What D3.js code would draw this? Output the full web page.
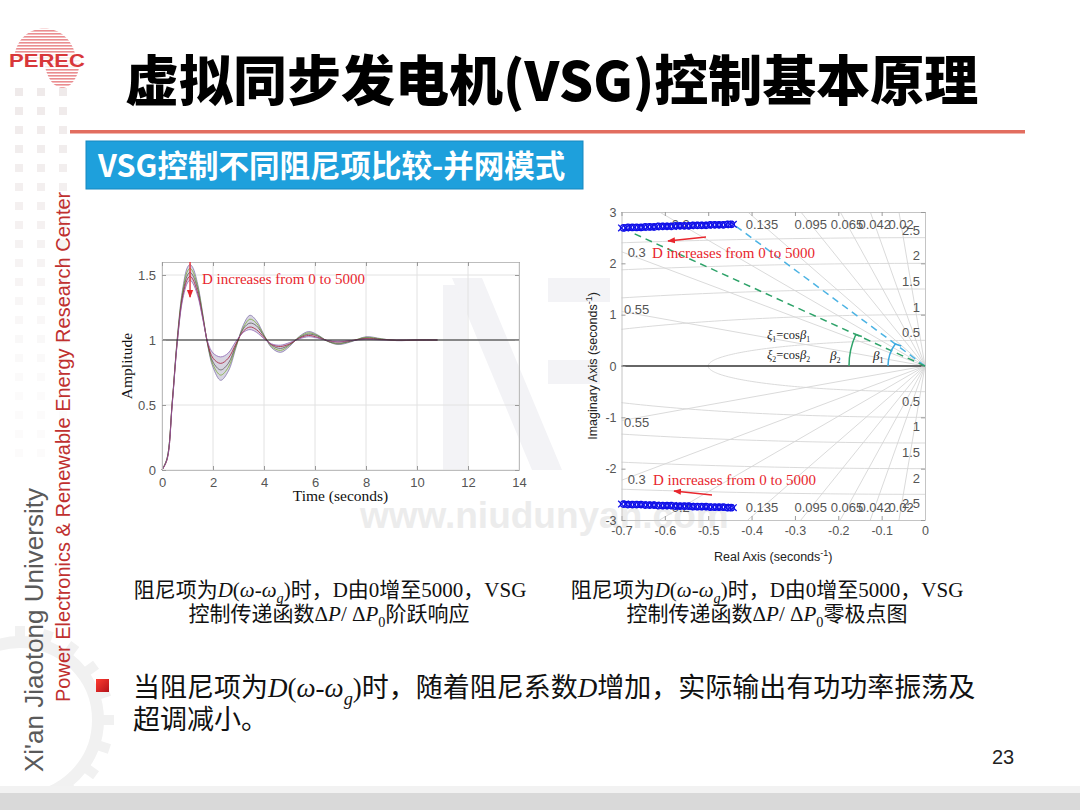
<!DOCTYPE html>
<html>
<head>
<meta charset="utf-8">
<script src="https://cdn.jsdelivr.net/npm/d3@7"></script>
<style>
body { margin: 0; background: #fff; }
svg text { font-family: "Liberation Sans", Arial, sans-serif; }
</style>
</head>
<body>
<div id="slide"></div>
<script>

// --- step response data -------------------------------------------------------//
var stepTime  = [0, 0.2, 0.4, 0.6, 0.8, 1.0, 1.1, 1.2, 1.4, 1.6, 1.8, 2.0, 2.3, 2.6, 2.9, 3.2, 3.45, 3.7, 4.0, 4.3, 4.65, 5.0, 5.4, 5.75, 6.1, 6.5, 6.9, 7.4, 8.0, 8.6, 9.2, 10.0, 10.8];
var stepD0    = [0, 0.09, 0.52, 1.02, 1.38, 1.56, 1.58, 1.56, 1.43, 1.20, 0.95, 0.79, 0.69, 0.76, 0.94, 1.12, 1.19, 1.15, 1.04, 0.94, 0.905, 0.95, 1.03, 1.065, 1.04, 0.99, 0.965, 0.985, 1.025, 1.01, 0.995, 1.0, 1.0];
var stepD1250 = [0, 0.09, 0.52, 1.01, 1.36, 1.53, 1.55, 1.53, 1.41, 1.19, 0.96, 0.81, 0.73, 0.79, 0.95, 1.10, 1.16, 1.13, 1.035, 0.95, 0.92, 0.96, 1.025, 1.055, 1.035, 0.99, 0.97, 0.99, 1.02, 1.008, 0.997, 1.0, 1.0];
var stepD2500 = [0, 0.09, 0.51, 1.00, 1.34, 1.50, 1.52, 1.50, 1.39, 1.18, 0.96, 0.83, 0.77, 0.82, 0.96, 1.09, 1.13, 1.11, 1.03, 0.96, 0.935, 0.965, 1.02, 1.045, 1.03, 0.99, 0.975, 0.99, 1.015, 1.005, 0.998, 1.0, 1.0];
var stepD3750 = [0, 0.08, 0.51, 0.99, 1.32, 1.47, 1.49, 1.47, 1.36, 1.17, 0.97, 0.86, 0.82, 0.86, 0.97, 1.07, 1.10, 1.08, 1.02, 0.965, 0.95, 0.97, 1.015, 1.035, 1.02, 0.995, 0.985, 0.995, 1.01, 1.003, 0.999, 1.0, 1.0];
var stepD5000 = [0, 0.08, 0.50, 0.98, 1.30, 1.44, 1.46, 1.44, 1.34, 1.16, 0.98, 0.90, 0.87, 0.90, 0.99, 1.06, 1.08, 1.06, 1.01, 0.97, 0.96, 0.98, 1.01, 1.025, 1.015, 0.995, 0.99, 0.995, 1.005, 1.0, 1.0, 1.0, 1.0];
var stepXTicks = [0, 2, 4, 6, 8, 10, 12, 14];
var stepYTicks = [0, 0.5, 1, 1.5];

// --- pole / zero data ------------------------------------------------------------//
var poleRe = [-0.700, -0.690, -0.680, -0.670, -0.660, -0.650, -0.640, -0.630, -0.620, -0.610, -0.600, -0.590, -0.580, -0.570, -0.560, -0.550, -0.540, -0.530, -0.520, -0.510, -0.500, -0.490, -0.480, -0.470, -0.460, -0.450, -0.442];
var poleIm = [2.69, 2.69, 2.70, 2.70, 2.70, 2.70, 2.71, 2.71, 2.71, 2.72, 2.72, 2.72, 2.72, 2.73, 2.73, 2.73, 2.73, 2.74, 2.74, 2.74, 2.74, 2.75, 2.75, 2.75, 2.75, 2.76, 2.76];
var zeroRe = [-0.695, -0.685, -0.675, -0.665, -0.655, -0.645, -0.635, -0.625, -0.615, -0.605, -0.595, -0.585, -0.575, -0.565, -0.555, -0.545, -0.535, -0.525, -0.515, -0.505, -0.495, -0.485, -0.475, -0.465, -0.455, -0.447];
var zeroIm = [2.69, 2.70, 2.70, 2.70, 2.70, 2.71, 2.71, 2.71, 2.72, 2.72, 2.72, 2.72, 2.73, 2.73, 2.73, 2.73, 2.74, 2.74, 2.74, 2.74, 2.75, 2.75, 2.75, 2.75, 2.76, 2.76];
var pzXTicks = [-0.7, -0.6, -0.5, -0.4, -0.3, -0.2, -0.1, 0];
var pzYTicks = [-3, -2, -1, 0, 1, 2, 3];
var dampingTicks = [0.02, 0.042, 0.065, 0.095, 0.135, 0.2, 0.3, 0.55];
var freqTicks = [0.5, 1, 1.5, 2, 2.5];


var FONT_CJK = '"Noto Sans CJK SC", "Noto Sans CJK TC", sans-serif';
var FONT_SERIF = '"Liberation Serif", "Times New Roman", serif';
var FONT_SANS = '"Liberation Sans", Arial, sans-serif';
var RED = '#e8262d';

var svg = d3.select('#slide').append('svg')
    .attr('width', 1080)
    .attr('height', 810)
    .attr('viewBox', '0 0 1080 810');

var defs = svg.append('defs');
defs.append('marker')
    .attr('id', 'redArrow')
    .attr('viewBox', '0 0 10 10')
    .attr('refX', 9).attr('refY', 5)
    .attr('markerWidth', 6).attr('markerHeight', 6)
    .attr('orient', 'auto-start-reverse')
    .append('path').attr('d', 'M0,1 L10,5 L0,9 Z').attr('fill', RED);

var stripes = defs.append('pattern')
    .attr('id', 'logoStripes').attr('patternUnits', 'userSpaceOnUse')
    .attr('width', 4).attr('height', 3);
stripes.append('rect').attr('width', 4).attr('height', 1.6).attr('fill', '#e57074');

var bulletGrad = defs.append('linearGradient').attr('id', 'bulletGrad')
    .attr('x1', 0).attr('y1', 0).attr('x2', 1).attr('y2', 1);
bulletGrad.append('stop').attr('offset', 0).attr('stop-color', '#ff3b30');
bulletGrad.append('stop').attr('offset', 1).attr('stop-color', '#b3121a');


// --- text helper: mixed CJK / Times runs with subscripts ---------------------- //
function richText(parent, x, y, parts, size, anchor) {
    var t = parent.append('text')
        .attr('x', x).attr('y', y)
        .attr('font-size', size)
        .attr('text-anchor', anchor || 'start')
        .attr('fill', '#111');
    var shift = 0;
    parts.forEach(function (p) {
        var k = p[1];
        var s = t.append('tspan').text(p[0])
            .style('font-family', k === 'c' ? FONT_CJK : FONT_SERIF);
        if (k === 'i' || k === 'isub') s.style('font-style', 'italic');
        var sub = (k === 'isub' || k === 'sub');
        var want = sub ? size * 0.3 : 0;
        if (want !== shift) { s.attr('dy', want - shift); shift = want; }
        if (sub) s.attr('font-size', size * 0.68);
    });
    return t;
}


//--- slide decoration ----------------------------------------------------------//
function renderBackground() {
    var deco = svg.append('g').attr('id', 'deco');

    // faint square grid in the left strip
    var cols = [19, 41, 63];
    var rows = d3.range(92, 470, 19);
    rows.forEach(function (ry, i) {
        cols.forEach(function (cx) {
            deco.append('rect')
                .attr('x', cx - 4).attr('y', ry - 4)
                .attr('width', 8).attr('height', 8)
                .attr('fill', '#efeaea')
                .attr('opacity', Math.max(0.2, 1 - i / rows.length));
        });
    });

    // faint gear at bottom left
    deco.append('circle').attr('cx', 20).attr('cy', 720).attr('r', 78)
        .attr('fill', 'none').attr('stroke', '#f1f1f1').attr('stroke-width', 12);
    d3.range(0, 360, 18).forEach(function (a) {
        deco.append('rect')
            .attr('x', -5).attr('y', -94).attr('width', 10).attr('height', 12)
            .attr('fill', '#f1f1f1')
            .attr('transform', 'translate(20,720) rotate(' + a + ')');
    });

    // bottom band
    deco.append('rect').attr('x', 0).attr('y', 786).attr('width', 1080).attr('height', 7).attr('fill', '#f2f2f2');
    deco.append('rect').attr('x', 0).attr('y', 793).attr('width', 1080).attr('height', 17).attr('fill', '#d9d9d9');

    // watermark
    var wm = svg.append('g').attr('id', 'watermark').attr('fill', '#f3f3f6');
    wm.append('rect').attr('x', 443).attr('y', 285).attr('width', 24).attr('height', 185);
    wm.append('path').attr('d', 'M452,278 L482,278 L562,470 L532,470 Z');
    wm.append('rect').attr('x', 548).attr('y', 278).attr('width', 62).attr('height', 24);
    wm.append('rect').attr('x', 548).attr('y', 360).attr('width', 52).attr('height', 24);
    wm.append('text').attr('x', 360).attr('y', 528)
        .attr('font-size', 37).attr('font-weight', 'bold')
        .attr('fill', '#ececec').text('www.niudunyan.com');

    // logo
    var logo = svg.append('g').attr('id', 'logo');
    logo.append('path').attr('d', 'M14,60 C16,18 72,18 76,60 Z').attr('fill', 'url(#logoStripes)').attr('opacity', 0.8);
    logo.append('path').attr('d', 'M44,60 C48,98 78,96 80,60 Z').attr('fill', 'url(#logoStripes)').attr('opacity', 0.8);
    logo.append('rect').attr('x', 9).attr('y', 53).attr('width', 76).attr('height', 15).attr('fill', '#fff').attr('opacity', 0.85);
    logo.append('text').attr('x', 9).attr('y', 67)
        .attr('font-size', 19).attr('font-weight', 900)
        .attr('textLength', 76).attr('lengthAdjust', 'spacingAndGlyphs')
        .attr('fill', '#d8373a')
        .text('PEREC');

    // vertical texts
    svg.append('text')
        .attr('transform', 'translate(43,772) rotate(-90)')
        .attr('font-size', 26).attr('fill', '#5a5a5a')
        .text("Xi'an Jiaotong University");
    svg.append('text')
        .attr('transform', 'translate(70,702) rotate(-90)')
        .attr('font-size', 20).attr('fill', '#c0302f')
        .text('Power Electronics & Renewable Energy Research Center');
}


//--- title and heading box -----------------------------------------------------//
function renderTitle() {
    svg.append('text')
        .attr('x', 125).attr('y', 101)
        .attr('font-size', 54).attr('font-weight', 900)
        .style('font-family', FONT_CJK)
        .attr('fill', '#000')
        .text('虚拟同步发电机(VSG)控制基本原理');

    svg.append('rect').attr('x', 70).attr('y', 130).attr('width', 955).attr('height', 3.5).attr('fill', '#e26d5f');

    svg.append('rect').attr('x', 86).attr('y', 141).attr('width', 497).attr('height', 48)
        .attr('fill', '#1ea0dc').attr('stroke', '#1688c0').attr('stroke-width', 1);
    svg.append('text')
        .attr('x', 98).attr('y', 177)
        .attr('font-size', 30.5).attr('font-weight', 'bold')
        .style('font-family', FONT_CJK)
        .attr('fill', '#fff')
        .text('VSG控制不同阻尼项比较-并网模式');
}


//--- step response chart -------------------------------------------------------//
function renderStep() {
    var x = d3.scaleLinear().domain([0, 14]).range([162, 519]);
    var y = d3.scaleLinear().domain([0, 1.6]).range([470, 262]);
    var g = svg.append('g').attr('id', 'step');

    // grid
    g.append('g').selectAll('line').data(stepXTicks).join('line')
        .attr('x1', x).attr('x2', x).attr('y1', y(0)).attr('y2', y(1.6))
        .attr('stroke', '#e2e2e2').attr('stroke-width', 1);
    g.append('g').selectAll('line').data(stepYTicks).join('line')
        .attr('x1', x(0)).attr('x2', x(14)).attr('y1', y).attr('y2', y)
        .attr('stroke', '#e2e2e2').attr('stroke-width', 1);

    var series = [stepD0, stepD1250, stepD2500, stepD3750, stepD5000];
    var colors = ['#7e6fa8', '#77ac30', '#555555', '#a2142f', '#8b5fb0'];

    var band = d3.area()
        .x(function (d, i) { return x(stepTime[i]); })
        .y0(function (d, i) { return y(stepD5000[i]); })
        .y1(function (d, i) { return y(stepD0[i]); })
        .curve(d3.curveCatmullRom);
    g.append('path').datum(stepD0).attr('d', band)
        .attr('fill', '#b7b1c9').attr('opacity', 0.55);

    var line = d3.line()
        .x(function (d, i) { return x(stepTime[i]); })
        .y(function (d) { return y(d); })
        .curve(d3.curveCatmullRom);
    series.forEach(function (s, k) {
        g.append('path').datum(s).attr('d', line)
            .attr('fill', 'none').attr('stroke', colors[k])
            .attr('stroke-width', 0.9).attr('opacity', 0.85);
    });

    // steady state line
    g.append('line').attr('x1', x(0)).attr('x2', x(14)).attr('y1', y(1)).attr('y2', y(1))
        .attr('stroke', '#222').attr('stroke-width', 1.2);

    // axes (box with inward ticks)
    var fmt = function (d) { return String(d); };
    var ax = g.append('g').attr('transform', 'translate(0,' + y(0) + ')')
        .call(d3.axisBottom(x).tickValues(stepXTicks).tickFormat(fmt).tickSizeInner(-4).tickSizeOuter(0).tickPadding(8));
    var ay = g.append('g').attr('transform', 'translate(' + x(0) + ',0)')
        .call(d3.axisLeft(y).tickValues(stepYTicks).tickFormat(fmt).tickSizeInner(-4).tickSizeOuter(0).tickPadding(6));
    var at = g.append('g').attr('transform', 'translate(0,' + y(1.6) + ')')
        .call(d3.axisTop(x).tickValues(stepXTicks).tickFormat('').tickSizeInner(-4).tickSizeOuter(0));
    var ar = g.append('g').attr('transform', 'translate(' + x(14) + ',0)')
        .call(d3.axisRight(y).tickValues(stepYTicks).tickFormat('').tickSizeInner(-4).tickSizeOuter(0));
    [ax, ay, at, ar].forEach(function (a) {
        a.select('.domain').attr('stroke', '#bdbdbd');
        a.selectAll('.tick line').attr('stroke', '#9a9a9a');
        a.selectAll('.tick text').attr('fill', '#555').attr('font-size', 13).style('font-family', FONT_SANS);
    });

    g.append('text')
        .attr('x', (x(0) + x(14)) / 2).attr('y', 501)
        .attr('text-anchor', 'middle').attr('font-size', 15.5)
        .style('font-family', FONT_SERIF).attr('fill', '#111')
        .text('Time (seconds)');
    g.append('text')
        .attr('transform', 'translate(132,' + y(0.8) + ') rotate(-90)')
        .attr('text-anchor', 'middle').attr('font-size', 15.5)
        .style('font-family', FONT_SERIF).attr('fill', '#111')
        .text('Amplitude');

    // annotation
    g.append('line')
        .attr('x1', x(1.1)).attr('x2', x(1.1)).attr('y1', y(1.6)).attr('y2', y(1.33))
        .attr('stroke', RED).attr('stroke-width', 1.3).attr('marker-end', 'url(#redArrow)');
    g.append('text')
        .attr('x', 202).attr('y', 284)
        .attr('font-size', 15).style('font-family', FONT_SERIF).attr('fill', RED)
        .text('D increases from 0 to 5000');
}


//--- pole-zero map ------------------------------------------------------------------//
function renderPzmap() {
    var x = d3.scaleLinear().domain([-0.7, 0]).range([621.5, 925]);
    var y = d3.scaleLinear().domain([-3, 3]).range([520, 212]);
    var g = svg.append('g').attr('id', 'pzmap');

    defs.append('clipPath').attr('id', 'pzClip').append('rect')
        .attr('x', x(-0.7)).attr('y', y(3)).attr('width', x(0) - x(-0.7)).attr('height', y(-3) - y(3));
    var grid = g.append('g').attr('clip-path', 'url(#pzClip)');
    var gridColor = '#d6d6d6';

    // damping ratio rays
    dampingTicks.forEach(function (z) {
        var s = Math.sqrt(1 - z * z) / z;
        var ex = -0.7, ey = 0.7 * s;
        if (ey > 3) { ey = 3; ex = -3 / s; }
        [1, -1].forEach(function (sg) {
            grid.append('line')
                .attr('x1', x(0)).attr('y1', y(0)).attr('x2', x(ex)).attr('y2', y(sg * ey))
                .attr('stroke', gridColor).attr('stroke-width', 0.9);
            var lx, ly;
            if (ey >= 3) { ly = 2.76; lx = -ly / s; } else { lx = -0.665; ly = 0.665 * s + 0.1; }
            g.append('text')
                .attr('x', x(lx)).attr('y', y(sg * ly) + 4.5)
                .attr('text-anchor', 'middle').attr('font-size', 13)
                .attr('fill', '#555').style('font-family', FONT_SANS)
                .text(String(z));
        });
    });

    // natural frequency arcs
    var arc = d3.line().x(function (d) { return x(d[0]); }).y(function (d) { return y(d[1]); });
    freqTicks.forEach(function (r) {
        [1, -1].forEach(function (sg) {
            var pts = d3.range(0, 91).map(function (a) {
                var t = a * Math.PI / 180;
                return [-r * Math.sin(t), sg * r * Math.cos(t)];
            });
            grid.append('path').attr('d', arc(pts))
                .attr('fill', 'none').attr('stroke', gridColor).attr('stroke-width', 0.9);
            g.append('text')
                .attr('x', x(0) - 5).attr('y', sg > 0 ? y(r) - 3 : y(-r) + 14)
                .attr('text-anchor', 'end').attr('font-size', 13)
                .attr('fill', '#555').style('font-family', FONT_SANS)
                .text(String(r));
        });
    });

    // real axis
    g.append('line').attr('x1', x(-0.7)).attr('x2', x(0)).attr('y1', y(0)).attr('y2', y(0))
        .attr('stroke', '#333').attr('stroke-width', 1.3);

    // axes
    var fmt = function (d) { return String(d); };
    var ax = g.append('g').attr('transform', 'translate(0,' + y(-3) + ')')
        .call(d3.axisBottom(x).tickValues(pzXTicks).tickFormat(fmt).tickSizeInner(-4).tickSizeOuter(0).tickPadding(6));
    var ay = g.append('g').attr('transform', 'translate(' + x(-0.7) + ',0)')
        .call(d3.axisLeft(y).tickValues(pzYTicks).tickFormat(fmt).tickSizeInner(-4).tickSizeOuter(0).tickPadding(5));
    var at = g.append('g').attr('transform', 'translate(0,' + y(3) + ')')
        .call(d3.axisTop(x).tickValues(pzXTicks).tickFormat('').tickSizeInner(-4).tickSizeOuter(0));
    var ar = g.append('g').attr('transform', 'translate(' + x(0) + ',0)')
        .call(d3.axisRight(y).tickValues(pzYTicks).tickFormat('').tickSizeInner(-4).tickSizeOuter(0));
    [ax, ay, at, ar].forEach(function (a) {
        a.select('.domain').attr('stroke', '#c4c4c4');
        a.selectAll('.tick line').attr('stroke', '#9a9a9a');
        a.selectAll('.tick text').attr('fill', '#555').attr('font-size', 12.5).style('font-family', FONT_SANS);
    });

    var xl = g.append('text')
        .attr('x', (x(-0.7) + x(0)) / 2).attr('y', 561)
        .attr('text-anchor', 'middle').attr('font-size', 12.5)
        .style('font-family', FONT_SANS).attr('fill', '#222');
    xl.append('tspan').text('Real Axis (seconds');
    xl.append('tspan').attr('dy', -5).attr('font-size', 9).text('-1');
    xl.append('tspan').attr('dy', 5).text(')');
    var yl = g.append('text')
        .attr('transform', 'translate(597,' + y(0) + ') rotate(-90)')
        .attr('text-anchor', 'middle').attr('font-size', 12.5)
        .style('font-family', FONT_SANS).attr('fill', '#222');
    yl.append('tspan').text('Imaginary Axis (seconds');
    yl.append('tspan').attr('dy', -5).attr('font-size', 9).text('-1');
    yl.append('tspan').attr('dy', 5).text(')');

    // damping angle guides
    var ox = x(0), oy = y(0);
    var last = poleRe.length - 1;
    var blueEnd = [x(poleRe[last]), y(poleIm[last])];
    var greenEnd = [x(poleRe[0] * 0.96), y(poleIm[0] * 0.96)];
    g.append('line').attr('x1', ox).attr('y1', oy).attr('x2', blueEnd[0]).attr('y2', blueEnd[1])
        .attr('stroke', '#4cb3e3').attr('stroke-width', 1.5).attr('stroke-dasharray', '7,5');
    g.append('line').attr('x1', ox).attr('y1', oy).attr('x2', greenEnd[0]).attr('y2', greenEnd[1])
        .attr('stroke', '#2fa36a').attr('stroke-width', 1.5).attr('stroke-dasharray', '7,5');

    function angleArc(end, r, color) {
        var a = Math.atan2(oy - end[1], ox - end[0]);
        var px = ox - r * Math.cos(a), py = oy - r * Math.sin(a);
        g.append('path')
            .attr('d', 'M' + (ox - r) + ',' + oy + ' A' + r + ',' + r + ' 0 0 1 ' + px + ',' + py + ' l6,2')
            .attr('fill', 'none').attr('stroke', color).attr('stroke-width', 1.5);
    }
    angleArc(blueEnd, 37, '#3aa8e0');
    angleArc(greenEnd, 76, '#2fa36a');

    function greek(tx, ty, parts, size) {
        var t = g.append('text').attr('x', tx).attr('y', ty).attr('font-size', size)
            .style('font-family', FONT_SERIF).attr('fill', '#222');
        var shift = 0;
        parts.forEach(function (p) {
            var s = t.append('tspan').text(p[0]);
            if (p[1] === 'i') s.style('font-style', 'italic');
            var want = p[1] === 'sub' ? 3 : 0;
            if (want !== shift) { s.attr('dy', want - shift); shift = want; }
            if (p[1] === 'sub') s.attr('font-size', size * 0.62);
        });
    }
    greek(767, 339, [['ξ', 'i'], ['1', 'sub'], ['=cos', 'n'], ['β', 'i'], ['1', 'sub']], 12.5);
    greek(767, 359, [['ξ', 'i'], ['2', 'sub'], ['=cos', 'n'], ['β', 'i'], ['2', 'sub']], 12.5);
    greek(830, 360, [['β', 'i'], ['2', 'sub']], 13);
    greek(873, 360, [['β', 'i'], ['1', 'sub']], 13);

    // zeros and poles (with conjugates)
    var blue = '#1010e8';
    var mk = g.append('g');
    zeroRe.forEach(function (re, i) {
        [1, -1].forEach(function (sg) {
            mk.append('circle').attr('cx', x(re)).attr('cy', y(sg * zeroIm[i])).attr('r', 3.2)
                .attr('fill', 'none').attr('stroke', blue).attr('stroke-width', 1.3);
        });
    });
    poleRe.forEach(function (re, i) {
        [1, -1].forEach(function (sg) {
            var cx = x(re), cy = y(sg * poleIm[i]), h = 3.3;
            mk.append('path')
                .attr('d', 'M' + (cx - h) + ',' + (cy - h) + 'L' + (cx + h) + ',' + (cy + h) +
                    'M' + (cx - h) + ',' + (cy + h) + 'L' + (cx + h) + ',' + (cy - h))
                .attr('stroke', blue).attr('stroke-width', 1.3);
        });
    });

    // annotations
    g.append('line').attr('x1', 706).attr('y1', 237).attr('x2', 668).attr('y2', 241)
        .attr('stroke', RED).attr('stroke-width', 1.3).attr('marker-end', 'url(#redArrow)');
    g.append('text').attr('x', 652).attr('y', 258)
        .attr('font-size', 15).style('font-family', FONT_SERIF).attr('fill', RED)
        .text('D increases from 0 to 5000');
    g.append('line').attr('x1', 712).attr('y1', 495).attr('x2', 674).attr('y2', 491)
        .attr('stroke', RED).attr('stroke-width', 1.3).attr('marker-end', 'url(#redArrow)');
    g.append('text').attr('x', 653).attr('y', 485)
        .attr('font-size', 15).style('font-family', FONT_SERIF).attr('fill', RED)
        .text('D increases from 0 to 5000');
}


//--- captions and bullet ---------------------------------------------------------//
function renderCaptions() {
    var g = svg.append('g').attr('id', 'captions');
    var line1 = [['阻尼项为', 'c'], ['D', 'i'], ['(', 's'], ['ω', 'i'], ['-', 's'], ['ω', 'i'], ['g', 'isub'], [')', 's'],
        ['时，', 'c'], ['D', 's'], ['由', 'c'], ['0', 's'], ['增至', 'c'], ['5000', 's'], ['，', 'c'], ['VSG', 's']];
    richText(g, 330, 597, line1, 21, 'middle');
    richText(g, 329, 621, [['控制传递函数', 'c'], ['Δ', 's'], ['P', 'i'], ['/ Δ', 's'], ['P', 'i'], ['0', 'sub'], ['阶跃响应', 'c']], 21, 'middle');
    richText(g, 767, 597, line1, 21, 'middle');
    richText(g, 767, 621, [['控制传递函数', 'c'], ['Δ', 's'], ['P', 'i'], ['/ Δ', 's'], ['P', 'i'], ['0', 'sub'], ['零极点图', 'c']], 21, 'middle');

    g.append('rect').attr('x', 96).attr('y', 679).attr('width', 13).attr('height', 13).attr('fill', 'url(#bulletGrad)');
    richText(g, 133, 697, [['当阻尼项为', 'c'], ['D', 'i'], ['(', 's'], ['ω', 'i'], ['-', 's'], ['ω', 'i'], ['g', 'isub'], [')', 's'],
        ['时，随着阻尼系数', 'c'], ['D', 'i'], ['增加，实际输出有功功率振荡及', 'c']], 27);
    richText(g, 133, 729, [['超调减小。', 'c']], 27);

    g.append('text').attr('x', 1003).attr('y', 764).attr('text-anchor', 'middle')
        .attr('font-size', 20).attr('fill', '#222').text('23');
}


renderBackground();
renderTitle();
renderStep();
renderPzmap();
renderCaptions();

</script>
</body>
</html>
